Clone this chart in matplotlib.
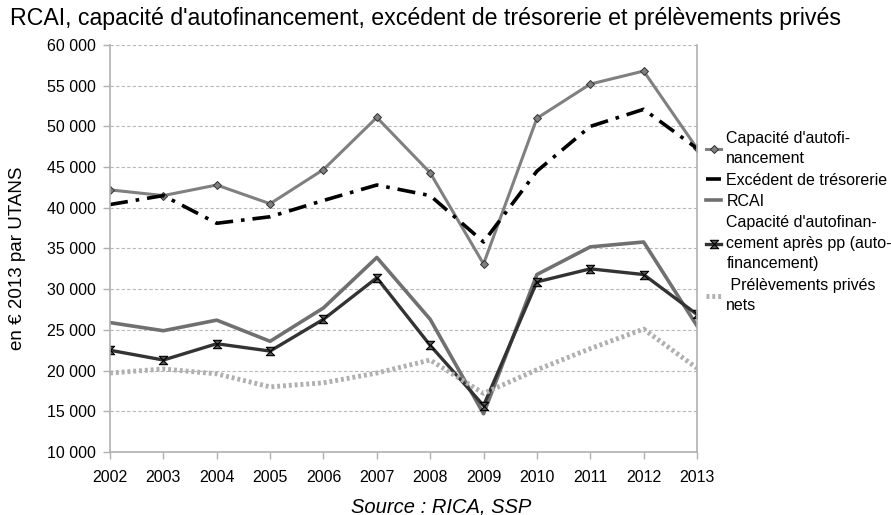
import numpy as np
import matplotlib.pyplot as plt
from matplotlib.path import Path

annees = [2002, 2003, 2004, 2005, 2006, 2007, 2008, 2009, 2010, 2011, 2012, 2013]

caf = [42200, 41500, 42800, 40500, 44700, 51100, 44300, 33100, 51000, 55200, 56800, 47300]
excedent = [40400, 41500, 38100, 38900, 40900, 42800, 41500, 35800, 44500, 50000, 52100, 47300]
rcai = [25900, 24900, 26200, 23600, 27700, 33900, 26300, 14700, 31800, 35200, 35800, 25500]
caf_apres_pp = [22500, 21300, 23300, 22400, 26300, 31400, 23100, 15700, 30900, 32500, 31800, 26900]
prelevements = [19700, 20200, 19600, 18000, 18500, 19700, 21300, 17200, 20100, 22700, 25100, 20300]

etiquettes = ["Capacité d'autofi-\nnancement", "Excédent de trésorerie", "RCAI",
              "Capacité d'autofinan-\ncement après pp (auto-\nfinancement)", " Prélèvements privés\nnets"]

plt.rcParams['font.family'] = ['Liberation Sans', 'DejaVu Sans']

# marqueur sablier
sablier = Path([(-1, 1), (1, 1), (-1, -1), (1, -1), (-1, 1)],
               [Path.MOVETO, Path.LINETO, Path.LINETO, Path.LINETO, Path.CLOSEPOLY])

fig = plt.figure(figsize=(8.91, 5.15), dpi=100)
ax = fig.add_axes([110 / 891, 1 - 452 / 515, 587 / 891, 407 / 515])

ax.plot(annees, caf, color='#808080', lw=2.2, marker='D', ms=4.5, mfc='#808080', mec='#333333', mew=0.7,
        label=etiquettes[0])
ax.plot(annees, excedent, color='black', lw=2.6, dashes=(5, 2.2, 1, 2.2), label=etiquettes[1])
ax.plot(annees, rcai, color='#707070', lw=2.6, label=etiquettes[2])
ax.plot(annees, caf_apres_pp, color='#333333', lw=2.4, marker=sablier, ms=6, mfc='#555555', mec='black', mew=0.8,
        label=etiquettes[3])
ax.plot(annees, prelevements, color='#b0b0b0', lw=3.5, dashes=(0.6, 0.6), label=etiquettes[4])

ax.set_xlim(2002, 2013)
ax.set_ylim(10000, 60000)
ax.set_xticks(annees)
ax.set_yticks(np.arange(10000, 60001, 5000))
ax.set_yticklabels([f"{v // 1000} 000" for v in range(10000, 60001, 5000)])
ax.tick_params(axis='both', labelsize=11.5, color='#b0b0b0', length=5, width=1)
ax.tick_params(axis='x', pad=8)
ax.tick_params(axis='y', pad=5)
ax.grid(axis='y', color='#b8b8b8', ls=(0, (3, 2)), lw=0.8)
ax.set_axisbelow(True)
for cote in ['left', 'bottom', 'right']:
    ax.spines[cote].set_color('#b0b0b0')
    ax.spines[cote].set_linewidth(1.2)
ax.spines['top'].set_visible(False)

fig.text(18 / 891, 1 - 258 / 515, "en € 2013 par UTANS", fontsize=13.5, rotation=90, ha='center', va='center')
fig.text(441 / 891, 1 - 507 / 515, "Source : RICA, SSP", fontsize=14.5, style='italic', ha='center', va='center')
fig.text(10 / 891, 1 - 18 / 515, "RCAI, capacité d'autofinancement, excédent de trésorerie et prélèvements privés",
         fontsize=16.7, va='center', ha='left')

leg = ax.legend(loc='upper left', bbox_to_anchor=(1.005, 0.805), frameon=False, fontsize=11.5,
                handlelength=0.9, handletextpad=0.35, labelspacing=0.4, borderaxespad=0)
for t in leg.get_texts():
    t.set_linespacing(1.45)

fig.savefig('out.png', dpi=100)
